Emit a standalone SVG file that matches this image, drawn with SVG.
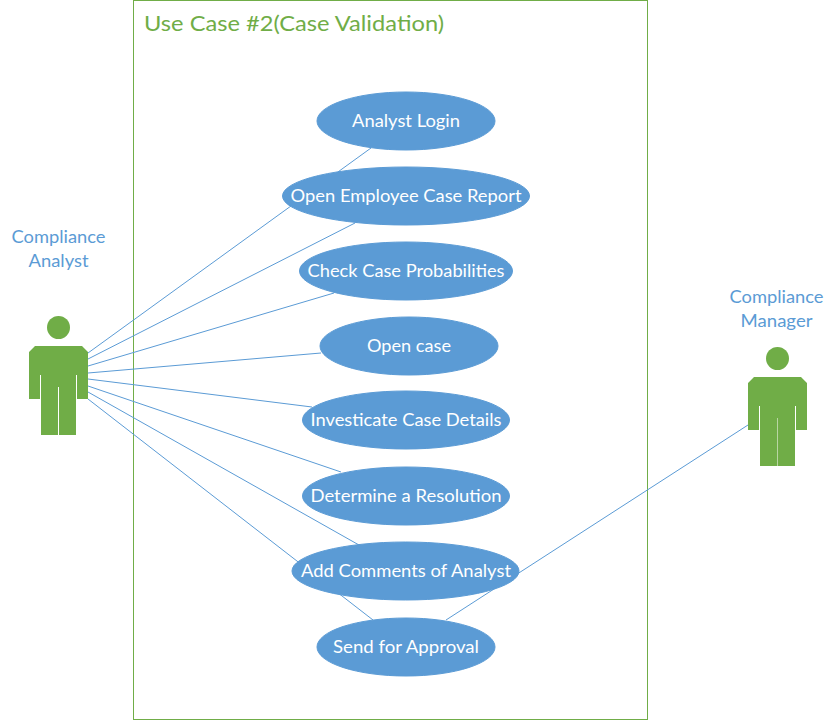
<svg xmlns="http://www.w3.org/2000/svg" width="840" height="721" viewBox="0 0 840 721">
<style>
text{font-family:"Lato","Open Sans","Liberation Sans",sans-serif;font-size:18px;text-anchor:middle}
.uc ellipse{fill:#5b9bd5;stroke:#5b9bd5;stroke-width:1}
.uc text{fill:#fff}
.lbl{fill:#5b9bd5}
.body{fill:#70ad47}
.slit{fill:none;stroke:#fff;stroke-width:1}
#connectors line{stroke:#5b9bd5;stroke-width:1}
</style>
<defs>
<g id="actor">
<circle class="body" cx="58.5" cy="327.5" r="11.5"/>
<path class="body" d="M35 346H82L88 352V399H77V375H76V435H41V375H40V399H29V352Z"/>
<path class="slit" d="M58.5 387V435"/>
<path class="slit" d="M40.5 375V399M76.5 375V399"/>
</g>
</defs>
<rect id="frame" x="133.5" y="0.5" width="514" height="719" fill="#fff" stroke="#70ad47" stroke-width="1"/>
<text x="294" y="31" textLength="300" lengthAdjust="spacingAndGlyphs" style="font-size:22px;fill:#70ad47">Use Case #2(Case Validation)</text>
<g id="connectors">
<line x1="88" y1="353" x2="371" y2="148"/>
<line x1="88" y1="359" x2="355" y2="223"/>
<line x1="88" y1="366" x2="334" y2="293"/>
<line x1="88" y1="373" x2="321" y2="353"/>
<line x1="88" y1="379" x2="312" y2="407"/>
<line x1="88" y1="386" x2="341" y2="472"/>
<line x1="88" y1="392" x2="359" y2="545"/>
<line x1="88" y1="399" x2="373" y2="620"/>
<line x1="748" y1="425" x2="446" y2="620"/>
</g>
<g id="uc1" class="uc"><ellipse cx="406" cy="121" rx="89" ry="29"/><text x="406" y="127" textLength="108" lengthAdjust="spacingAndGlyphs">Analyst Login</text></g>
<g id="uc2" class="uc"><ellipse cx="406" cy="196" rx="123.500" ry="29"/><text x="406" y="202" textLength="231" lengthAdjust="spacingAndGlyphs">Open Employee Case Report</text></g>
<g id="uc3" class="uc"><ellipse cx="406" cy="271" rx="106.500" ry="29"/><text x="406" y="277" textLength="197" lengthAdjust="spacingAndGlyphs">Check Case Probabilities</text></g>
<g id="uc4" class="uc"><ellipse cx="409" cy="346" rx="89" ry="29"/><text x="409" y="352" textLength="84" lengthAdjust="spacingAndGlyphs">Open case</text></g>
<g id="uc5" class="uc"><ellipse cx="406" cy="420" rx="103.500" ry="29"/><text x="406" y="426" textLength="191" lengthAdjust="spacingAndGlyphs">Investicate Case Details</text></g>
<g id="uc6" class="uc"><ellipse cx="406" cy="496" rx="103.500" ry="29"/><text x="406" y="502" textLength="191" lengthAdjust="spacingAndGlyphs">Determine a Resolution</text></g>
<g id="uc7" class="uc"><ellipse cx="405.500" cy="571" rx="113.500" ry="29"/><text x="406" y="577" textLength="210" lengthAdjust="spacingAndGlyphs">Add Comments of Analyst</text></g>
<g id="uc8" class="uc"><ellipse cx="406" cy="647" rx="89" ry="29"/><text x="406" y="653" textLength="146" lengthAdjust="spacingAndGlyphs">Send for Approval</text></g>
<g id="analyst"><use href="#actor"/><text class="lbl" x="58.500" y="243" textLength="94" lengthAdjust="spacingAndGlyphs">Compliance</text><text class="lbl" x="58.500" y="267" textLength="60" lengthAdjust="spacingAndGlyphs">Analyst</text></g>
<g id="manager"><use href="#actor" x="719" y="31" stroke-opacity="0.5"/><text class="lbl" x="776.500" y="303" textLength="94" lengthAdjust="spacingAndGlyphs">Compliance</text><text class="lbl" x="776.500" y="327" textLength="72" lengthAdjust="spacingAndGlyphs">Manager</text></g>
</svg>
